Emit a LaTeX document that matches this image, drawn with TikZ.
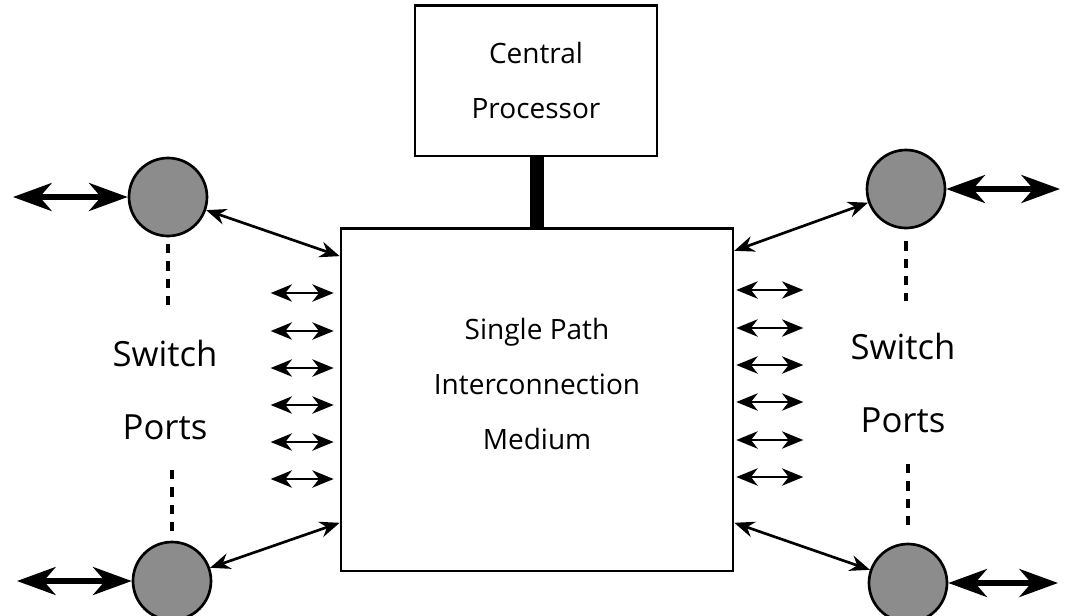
\documentclass[tikz,border=0pt]{standalone}
\usepackage{fontspec}
\setmainfont{Open Sans}
\usetikzlibrary{arrows.meta}

\begin{document}
\begin{tikzpicture}
[
x=0.75pt, y=-0.75pt,
box/.style={draw, line width=2pt, rectangle},
port/.style={circle, draw, line width=2pt, fill=black!45, minimum size=58.5pt, inner sep=0pt},
boxtext/.style={align=center, font=\fontsize{21}{41}\selectfont},
porttext/.style={align=center, font=\fontsize{26}{55}\selectfont},
bar/.style={line width=11pt},
bigarrow/.style={line width=3.8pt, >={Stealth[length=29pt,width=21pt,inset=9pt]}, <->},
link/.style={line width=2pt, >={Stealth[length=15pt,width=12pt,inset=5pt]}, <->},
tinyarrow/.style={line width=1.7pt, >={Stealth[length=16pt,width=13pt,inset=5pt]}, <->},
dots/.style={line width=2.4pt, dash pattern=on 7pt off 6pt}
]
\useasboundingbox (0,0) rectangle (1067,615);

\node[box, boxtext, minimum width=181.5pt, minimum height=113pt] (cpu) at (536,80.5) {Central\\Processor};
\node[box, minimum width=294pt, minimum height=257pt] (medium) at (537,399.5) {};
\node[boxtext] (mediumtext) at (537,384) {Single Path\\Interconnection\\Medium};

\node[port] (pTL) at (168,197) {};
\node[port] (pBL) at (172,581) {};
\node[port] (pTR) at (906,189) {};
\node[port] (pBR) at (908,583) {};

\node[porttext] (leftlabel) at (165,390) {Switch\\Ports};
\node[porttext] (rightlabel) at (903,383) {Switch\\Ports};

\coordinate (eTL) at (13,197);
\coordinate (eBL) at (17,581);
\coordinate (eTR) at (1060,189);
\coordinate (eBR) at (1058,583);

\draw[bar] (medium.north) -- (medium.north |- cpu.south);

\draw[bigarrow] (pTL.west) -- (eTL);
\draw[bigarrow] (pBL.west) -- (eBL);
\draw[bigarrow] (pTR.east) -- (eTR);
\draw[bigarrow] (pBR.east) -- (eBR);

\draw[link] (pTL) -- (medium.144);
\draw[link] (pBL) -- (medium.212);
\draw[link] (pTR) -- (medium.37);
\draw[link] (pBR) -- (medium.-32);

\draw[dots] ([yshift=-5pt]pTL.south) -- ++(0,64);
\draw[dots] ([yshift=7pt]pBL.north) -- ++(0,-66);
\draw[dots] ([yshift=-9pt]pTR.south) -- ++(0,60);
\draw[dots] ([yshift=13pt]pBR.north) -- ++(0,-67);

\foreach \y in {293,331,368,405,442,479}
  \draw[tinyarrow] ([xshift=-4.5pt]medium.west |- 0,\y) -- ++(-63,0);
\foreach \y in {290,328,365,402,440,477}
  \draw[tinyarrow] ([xshift=1.5pt]medium.east |- 0,\y) -- ++(67,0);
\end{tikzpicture}
\end{document}
